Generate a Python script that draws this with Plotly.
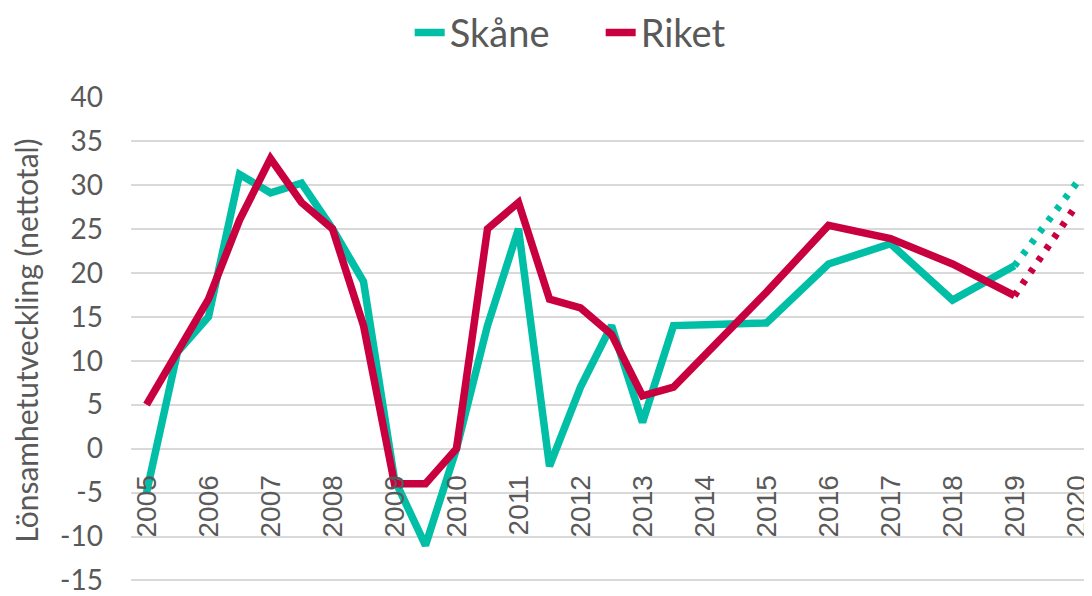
import plotly.graph_objects as go

# Time points (half-years up to 2013.5, then annual)
periods = [2005, 2005.5, 2006, 2006.5, 2007, 2007.5, 2008, 2008.5, 2009, 2009.5,
           2010, 2010.5, 2011, 2011.5, 2012, 2012.5, 2013, 2013.5,
           2014, 2015, 2016, 2017, 2018, 2019]
skane = [-5, 11, 15, 31.2, 29.1, 30.2, 25, 19, -3.5, -11,
         0, 14, 25, -2, 7, 14, 3, 14,
         14.1, 14.3, 21, 23.3, 16.9, 20.8]
riket = [5, 11, 17, 26, 33, 28, 25, 14, -4, -4,
         0, 25, 28, 17, 16, 13, 6, 7,
         10.5, 17.8, 25.4, 23.9, 21, 17.4]

# Forecast segment (dotted)
prog_periods = [2019, 2020]
skane_prog = [20.8, 30.2]
riket_prog = [17.4, 27.7]

year_ticks = list(range(2005, 2021))
year_labels = [str(y) for y in year_ticks]
y_ticks = [-15, -10, -5, 0, 5, 10, 15, 20, 25, 30, 35, 40]
y_labels = ["-15", "-10", "-5", "0", "5", "10", "15", "20", "25", "30", "35", "40"]

GREEN = "#00BFA6"
RED = "#C8003F"
GREY = "#595959"

fig = go.Figure()
fig.add_trace(go.Scatter(x=periods, y=skane, mode="lines", name="Skåne",
                         line=dict(color=GREEN, width=7.5)))
fig.add_trace(go.Scatter(x=periods, y=riket, mode="lines", name="Riket",
                         line=dict(color=RED, width=7.5)))
fig.add_trace(go.Scatter(x=prog_periods, y=skane_prog, mode="lines", showlegend=False,
                         line=dict(color=GREEN, width=7, dash="5px,9px")))
fig.add_trace(go.Scatter(x=prog_periods, y=riket_prog, mode="lines", showlegend=False,
                         line=dict(color=RED, width=7, dash="5px,9px")))

ymin, ymax = -15.4, 40
fig.update_layout(
    width=1084, height=588,
    margin=dict(l=123, r=0, t=89, b=8),
    paper_bgcolor="white", plot_bgcolor="white",
    font=dict(family="Lato", color=GREY),
    legend=dict(orientation="h", x=0.29, xanchor="left", y=0.958, yanchor="middle",
                yref="container", bgcolor="rgba(0,0,0,0)",
                font=dict(family="Lato", size=38, color=GREY),
                entrywidth=146, entrywidthmode="pixels"),
    xaxis=dict(range=[2004.75, 2020.25], tickvals=year_ticks, ticktext=year_labels,
               tickangle=-90, anchor="free", position=(0 - ymin) / (ymax - ymin),
               showgrid=False, zeroline=False, showline=False, ticks="",
               ticklabelstandoff=20,
               tickfont=dict(family="Liberation Sans", size=28, color=GREY)),
    yaxis=dict(range=[ymin, ymax], tickvals=y_ticks, ticktext=y_labels, showgrid=True,
               gridcolor="#D9D9D9", gridwidth=2, zeroline=False, showline=False,
               ticks="", ticklabelstandoff=27, ticklabeloverflow="allow",
               tickfont=dict(family="Lato", size=28, color=GREY),
               title=dict(text="Lönsamhetutveckling (nettotal)", standoff=20,
                          font=dict(family="Lato", size=30, color=GREY))),
)

fig.write_html("out.html")
